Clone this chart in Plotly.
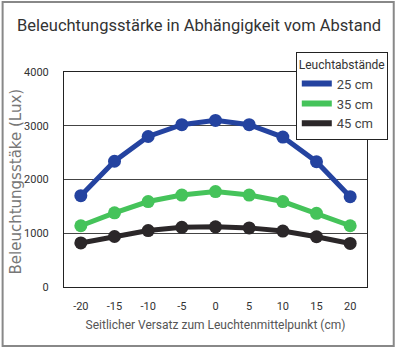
import plotly.graph_objects as go

x_vals = [-20, -15, -10, -5, 0, 5, 10, 15, 20]
x_labels = ["-20", "-15", "-10", "-5", "0", "5", "10", "15", "20"]
y_ticks = [0, 1000, 2000, 3000, 4000]
s25 = [1700, 2340, 2800, 3020, 3100, 3020, 2790, 2330, 1680]
s35 = [1140, 1380, 1590, 1710, 1775, 1710, 1590, 1370, 1140]
s45 = [820, 940, 1050, 1110, 1120, 1100, 1040, 935, 810]
names = ["25 cm", "35 cm", "45 cm"]
colors = ["#2443a0", "#45c35a", "#2b2729"]

FONT = "Roboto, sans-serif"

fig = go.Figure()
for name, ys, c in zip(names, [s25, s35, s45], colors):
    fig.add_trace(go.Scatter(
        x=x_vals, y=ys, name=name, mode="lines+markers",
        line=dict(color=c, width=5),
        marker=dict(color=c, size=13),
        showlegend=False,
    ))
# legend entries drawn as plain line samples
for name, c in zip(names, colors):
    fig.add_trace(go.Scatter(
        x=[None], y=[None], name=name, mode="lines",
        line=dict(color=c, width=6), showlegend=True,
    ))

fig.update_layout(
    width=400, height=350,
    margin=dict(l=64, r=30, t=72, b=63),
    paper_bgcolor="white", plot_bgcolor="white",
    xaxis=dict(range=[-22.5, 22.5], tickvals=x_vals, ticktext=x_labels, ticks="",
               showgrid=False, zeroline=False, ticklabelstandoff=9,
               showline=True, linecolor="#222", linewidth=1, mirror=True,
               tickfont=dict(family=FONT, size=11, color="#333"),
               title=dict(text="Seitlicher Versatz zum Leuchtenmittelpunkt (cm)",
                          font=dict(family=FONT, size=12, color="#555"), standoff=8)),
    yaxis=dict(range=[0, 4000], tickvals=y_ticks, ticks="",
               showgrid=True, gridcolor="#444", gridwidth=1.3, zeroline=False,
               ticklabelstandoff=12,
               showline=True, linecolor="#222", linewidth=1, mirror=True,
               tickfont=dict(family=FONT, size=11, color="#333")),
    legend=dict(title=dict(text="Leuchtabstände", font=dict(family=FONT, size=12, color="#333")),
                x=(391-64)/306, y=1.093, xanchor="right", yanchor="top",
                bgcolor="white", bordercolor="#222", borderwidth=1,
                font=dict(family=FONT, size=13, color="#444"),
                itemwidth=30, tracegroupgap=0),
    showlegend=True,
)
fig.add_annotation(text="Beleuchtungsstärke in Abhängigkeit vom Abstand",
                   xref="paper", yref="paper", x=(200.5-64)/306, y=(287-25)/215,
                   xanchor="center", yanchor="middle", showarrow=False,
                   font=dict(family=FONT, size=16.5, color="#333333"))
fig.add_annotation(text="Beleuchtungsstäke (Lux)",
                   xref="paper", yref="paper", x=(16-64)/306, y=(287-181)/215,
                   xanchor="center", yanchor="middle", showarrow=False, textangle=-90,
                   font=dict(family="DejaVu Sans, sans-serif", size=15, color="#777"))
fig.add_shape(type="rect", xref="paper", yref="paper",
              x0=(2-64)/306, x1=(397-64)/306, y0=(287-346)/215, y1=(287-2)/215,
              line=dict(color="#888", width=2), layer="below")

fig.write_html("out.html")
